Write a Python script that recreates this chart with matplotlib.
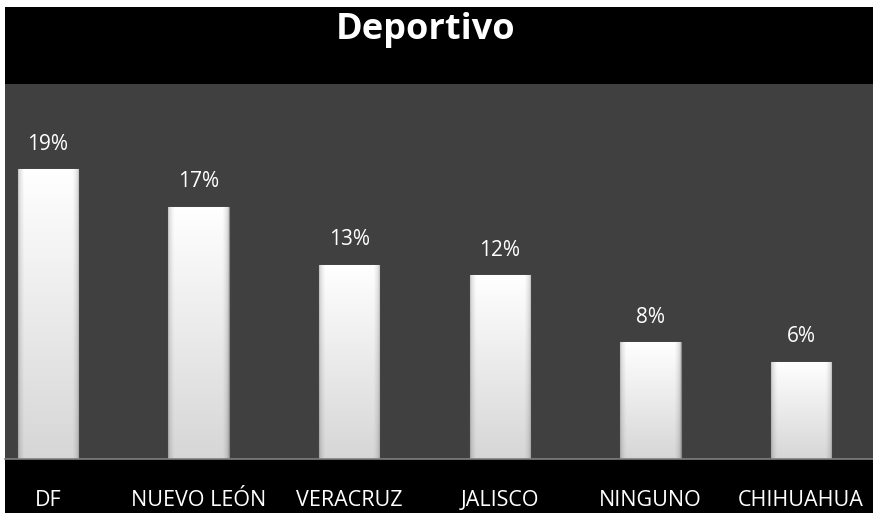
import numpy as np
import matplotlib
matplotlib.use('Agg')
import matplotlib.pyplot as plt
from matplotlib.patches import Rectangle

# --- Data -----------------------------------------------------------
estados = ['DF', 'NUEVO LEÓN', 'VERACRUZ', 'JALISCO', 'NINGUNO', 'CHIHUAHUA']
valores = [0.191, 0.166, 0.128, 0.121, 0.077, 0.064]
titulo = 'Deportivo'

plt.rcParams['font.family'] = ['Open Sans', 'DejaVu Sans']

W, H = 873, 513
fig = plt.figure(figsize=(W/100, H/100), dpi=100, facecolor='white')

# black frame behind everything (thin white strip left/top like the source)
fig.patches.append(Rectangle((5/W, 0), 1 - 5/W, 1 - 7/H,
                             transform=fig.transFigure, facecolor='black',
                             edgecolor='none', zorder=-10))

ax = fig.add_axes([5/W, 54/H, 868/W, 375/H])
ax.set_zorder(1)
ax.set_facecolor('#404040')

x = np.arange(len(estados))
bars = ax.bar(x, valores, width=0.4, color='white', edgecolor='#8a8a8a',
              linewidth=0.8, zorder=2)

# bevel-like shading on each bar
nx, ny = 60, 200
u = np.linspace(0, 1, nx)
edge = np.clip(np.minimum(u, 1 - u) / 0.1, 0, 1)
hx = 0.78 + 0.22 * np.sqrt(edge)
v = np.linspace(0, 1, ny)          # 0 = top, 1 = bottom
vy = 1.0 - 0.16 * v
shade = np.outer(vy, hx)
rgb = np.dstack([shade, shade, shade])
for b in bars:
    x0, w, h = b.get_x(), b.get_width(), b.get_height()
    im = ax.imshow(rgb, extent=(x0, x0 + w, 0, h), aspect='auto',
                   interpolation='bilinear', zorder=2.5)
    im.set_clip_path(b)

for b, val in zip(bars, valores):
    ax.annotate(f'{val*100:.0f}%', (b.get_x() + b.get_width()/2, b.get_height()),
                xytext=(0, 18), textcoords='offset points', ha='center',
                va='center', color='white', fontsize=15)

ax.set_xlim(-0.285, 5.478)
ax.set_ylim(0, 0.247)
ax.set_yticks([])
ax.set_xticks(x)
ax.set_xticklabels(estados, color='white', fontsize=15.5)
ax.tick_params(axis='x', length=0, pad=22)
for s in ['top', 'left', 'right']:
    ax.spines[s].set_visible(False)
ax.spines['bottom'].set_color('#808080')
ax.spines['bottom'].set_linewidth(1.2)

fig.text(0.487, 1 - 30/H, titulo, ha='center', va='center', color='white',
         fontsize=26, fontweight='bold')

fig.savefig('out.png', dpi=100, facecolor=fig.get_facecolor())
